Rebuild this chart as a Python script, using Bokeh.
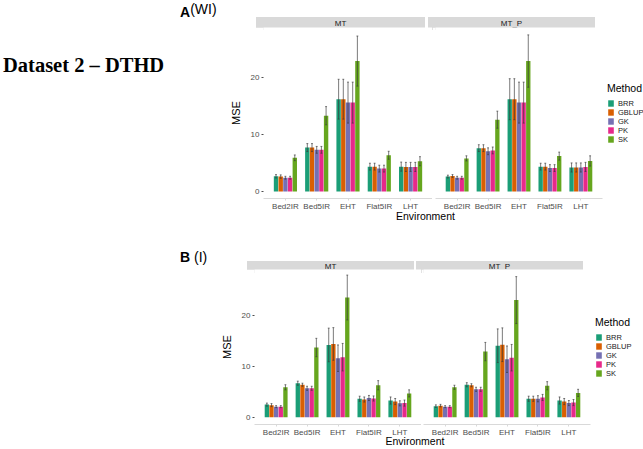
from bokeh.plotting import figure
from bokeh.models import (FactorRange, Range1d, FixedTicker, Legend, LegendItem,
                          Div, Spacer, ColumnDataSource)
from bokeh.transform import dodge
from bokeh.layouts import row, column
from bokeh.embed import file_html
from bokeh.resources import INLINE

# ---------------- data ----------------
environments = ["Bed2IR", "Bed5IR", "EHT", "Flat5IR", "LHT"]
methods = ["BRR", "GBLUP", "GK", "PK", "SK"]
method_colors = ["#1B9E77", "#D95F02", "#7570B3", "#E7298A", "#66A61E"]
facets = ["MT", "MT_P"]
y_ticks = [0, 10, 20]

# Panel A (WI): rows = methods (BRR, GBLUP, GK, PK, SK), columns = environments
wi_mt_mse = [[2.65, 7.7, 16.2, 4.35, 4.35],
             [2.6, 7.7, 16.2, 4.35, 4.3],
             [2.4, 7.3, 15.6, 4.0, 4.3],
             [2.4, 7.3, 15.6, 4.0, 4.3],
             [5.9, 13.3, 22.9, 6.35, 5.3]]
wi_mt_err = [[0.3, 0.7, 3.5, 0.6, 0.8],
             [0.3, 0.7, 3.5, 0.6, 0.8],
             [0.25, 0.6, 3.6, 0.6, 0.8],
             [0.25, 0.6, 3.6, 0.6, 0.8],
             [0.5, 1.6, 4.4, 0.7, 0.8]]
wi_mtp_mse = [[2.6, 7.6, 16.2, 4.35, 4.2],
              [2.7, 7.6, 16.2, 4.35, 4.2],
              [2.4, 7.05, 15.6, 4.1, 4.2],
              [2.4, 7.2, 15.6, 4.1, 4.3],
              [5.8, 12.6, 22.9, 6.2, 5.35]]
wi_mtp_err = [[0.25, 0.6, 3.6, 0.6, 0.8],
              [0.25, 0.6, 3.6, 0.6, 0.8],
              [0.25, 0.6, 3.6, 0.6, 0.8],
              [0.25, 0.6, 3.6, 0.6, 0.8],
              [0.45, 1.5, 4.6, 0.7, 0.9]]

# Panel B (I)
i_mt_mse = [[2.5, 6.7, 14.2, 3.65, 3.3],
            [2.4, 6.4, 14.4, 3.5, 3.1],
            [2.1, 5.7, 11.6, 3.8, 2.75],
            [2.1, 5.7, 11.8, 3.7, 2.8],
            [5.9, 13.7, 23.5, 6.3, 4.7]]
i_mt_err = [[0.3, 0.4, 3.3, 0.5, 0.7],
            [0.3, 0.3, 3.2, 0.5, 0.6],
            [0.2, 0.4, 2.6, 0.5, 0.5],
            [0.2, 0.4, 2.7, 0.5, 0.6],
            [0.5, 1.8, 4.4, 0.9, 0.7]]
i_mtp_mse = [[2.2, 6.4, 14.05, 3.65, 3.3],
             [2.3, 6.3, 14.25, 3.65, 3.1],
             [2.1, 5.5, 11.4, 3.65, 2.8],
             [2.1, 5.5, 11.7, 3.9, 2.9],
             [5.9, 12.9, 23.0, 6.2, 4.8]]
i_mtp_err = [[0.25, 0.4, 3.3, 0.5, 0.7],
             [0.25, 0.3, 3.3, 0.5, 0.6],
             [0.2, 0.4, 2.6, 0.6, 0.5],
             [0.2, 0.4, 2.6, 0.6, 0.6],
             [0.4, 1.8, 4.6, 0.8, 0.7]]

FONT = "Liberation Sans"


def facet_fig(mse, err, frame_w, frame_h, y_lo, y_hi, first, gap, bottom):
    p = figure(x_range=FactorRange(factors=environments, range_padding=0.2,
                                   range_padding_units="absolute"),
               y_range=Range1d(y_lo, y_hi),
               frame_width=frame_w, frame_height=frame_h,
               output_backend="svg", toolbar_location=None,
               y_axis_location="left" if first else None,
               min_border_left=30 if first else gap,
               min_border_right=0 if first else 44,
               min_border_top=0, min_border_bottom=bottom)
    p.xgrid.visible = False
    p.ygrid.visible = False
    p.outline_line_color = None
    p.background_fill_color = "white"

    items = []
    for i, m in enumerate(methods):
        off = (i - 2) * 0.15
        lo = [v - e for v, e in zip(mse[i], err[i])]
        hi = [v + e for v, e in zip(mse[i], err[i])]
        src = ColumnDataSource(dict(env=environments, mse=mse[i], lo=lo, hi=hi))
        r = p.vbar(x=dodge("env", off, range=p.x_range), top="mse", bottom=0,
                   width=0.14, fill_color=method_colors[i], line_color=None, source=src)
        p.segment(x0=dodge("env", off, range=p.x_range), x1=dodge("env", off, range=p.x_range),
                  y0="lo", y1="hi", line_color="#3a3a3a", line_alpha=0.75, line_width=0.9, source=src)
        for col in ("lo", "hi"):
            p.segment(x0=dodge("env", off - 0.03, range=p.x_range),
                      x1=dodge("env", off + 0.03, range=p.x_range),
                      y0=col, y1=col, line_color="#3a3a3a", line_alpha=0.75,
                      line_width=0.9, source=src)
        items.append(LegendItem(label=m, renderers=[r]))

    xa = p.xaxis[0]
    xa.axis_line_color = "#D9D9D9"
    xa.major_tick_line_color = "#D9D9D9"
    xa.major_tick_out = 2
    xa.major_tick_in = 0
    xa.major_label_standoff = 1
    xa.axis_label_standoff = 0
    xa.major_label_text_font = FONT
    xa.major_label_text_font_size = "8px"
    xa.major_label_text_color = "#4D4D4D"

    if first:
        ya = p.yaxis[0]
        ya.ticker = FixedTicker(ticks=y_ticks)
        ya.axis_line_color = None
        ya.major_tick_line_color = "#4D4D4D"
        ya.major_tick_out = 2
        ya.major_tick_in = 0
        ya.minor_tick_line_color = None
        ya.major_label_standoff = 2
        ya.major_label_text_font = FONT
        ya.major_label_text_font_size = "8px"
        ya.major_label_text_color = "#4D4D4D"
        ya.axis_label = "MSE"
        ya.axis_label_text_font = FONT
        ya.axis_label_text_font_size = "11px"
        ya.axis_label_text_font_style = "normal"
        ya.axis_label_text_color = "#000000"
        ya.axis_label_standoff = 6
    else:
        leg = Legend(items=items, title="Method", location="center_left",
                     orientation="vertical",
                     glyph_width=7, glyph_height=8, label_height=8, label_width=10,
                     label_standoff=4, spacing=0, padding=0, margin=5,
                     border_line_color=None, background_fill_alpha=0,
                     title_text_font=FONT, title_text_font_size="10.5px",
                     title_text_font_style="normal", title_text_color="#000000",
                     title_standoff=5,
                     label_text_font=FONT, label_text_font_size="7.5px",
                     label_text_color="#1A1A1A")
        p.add_layout(leg, "right")
    return p


def strip(text, w, h):
    return Div(text=(f'<div style="width:{w}px;height:{h}px;line-height:{h}px;'
                     f'background:#D9D9D9;text-align:center;font-family:{FONT};'
                     f'font-size:8px;color:#1A1A1A">{text}</div>'),
               width=w, height=h, margin=0)


def env_label(indent, w, h, pull_up):
    return Div(text=(f'<div style="margin-left:{indent}px;width:{w}px;height:{h}px;line-height:{h}px;'
                     f'text-align:center;font-family:{FONT};font-size:10.5px;'
                     f'color:#000000;white-space:nowrap">Environment</div>'),
               width=indent + w, height=h, margin=(-pull_up, 0, 0, 0))


def panel_label(letter, sub, w, h, sub_raise):
    return Div(text=(f'<div style="padding-left:180px;white-space:nowrap;line-height:{h}px;'
                     f'font-family:{FONT};color:#000">'
                     f'<span style="font-weight:bold;font-size:14px">{letter}</span>'
                     f'<span style="font-size:14px;position:relative;top:-{sub_raise}px">{sub}</span></div>'),
               width=w, height=h, margin=0)


# ---------------- panel A ----------------
A_left = 226
fA_h = 171
figA1 = facet_fig(wi_mt_mse, wi_mt_err, 169, fA_h, -1.25, 28.8, True, 0, 12)
figA2 = facet_fig(wi_mtp_mse, wi_mtp_err, 167, fA_h, -1.25, 28.8, False, 3, 12)

title_div = Div(text=('<div style="padding-left:3px;font-family:\'Liberation Serif\';font-weight:bold;'
                      'font-size:20.5px;line-height:24px;white-space:nowrap;color:#000">'
                      'Dataset 2 \u2013 DTHD</div>'),
                width=A_left, height=24, margin=0)

leftA = column(Spacer(width=A_left, height=3, margin=0),
               panel_label("A", "(WI)", A_left, 18, 3),
               Spacer(width=A_left, height=32, margin=0),
               title_div)
colA = column(Spacer(width=413, height=14, margin=0),
              row(Spacer(width=30, height=13, margin=0), strip(facets[0], 169, 13),
                  Spacer(width=3, height=13, margin=0), strip(facets[1], 167, 13)),
              row(figA1, figA2),
              env_label(30, 169 + 3 + 167, 11, 5))
rowA = row(leftA, colA)

# ---------------- panel B ----------------
B_left = 217
fB_w, fB_h = 167, 155
figB1 = facet_fig(i_mt_mse, i_mt_err, fB_w, fB_h, -1.4, 29.0, True, 0, 12)
figB2 = facet_fig(i_mtp_mse, i_mtp_err, fB_w, fB_h, -1.4, 29.0, False, 2, 12)

leftB = column(Spacer(width=B_left, height=29, margin=0),
               panel_label("B", "\u00a0(I)", B_left, 18, 0))
colB = column(Spacer(width=300, height=38, margin=0),
              row(Spacer(width=30, height=12, margin=0), strip(facets[0], fB_w, 12),
                  Spacer(width=2, height=12, margin=0), strip(facets[1], fB_w, 12)),
              row(figB1, figB2),
              env_label(30, 2 * fB_w + 2, 10, 6))
rowB = row(leftB, colB)

layout = column(rowA, rowB)

open("out.html", "w").write(file_html(layout, INLINE))
